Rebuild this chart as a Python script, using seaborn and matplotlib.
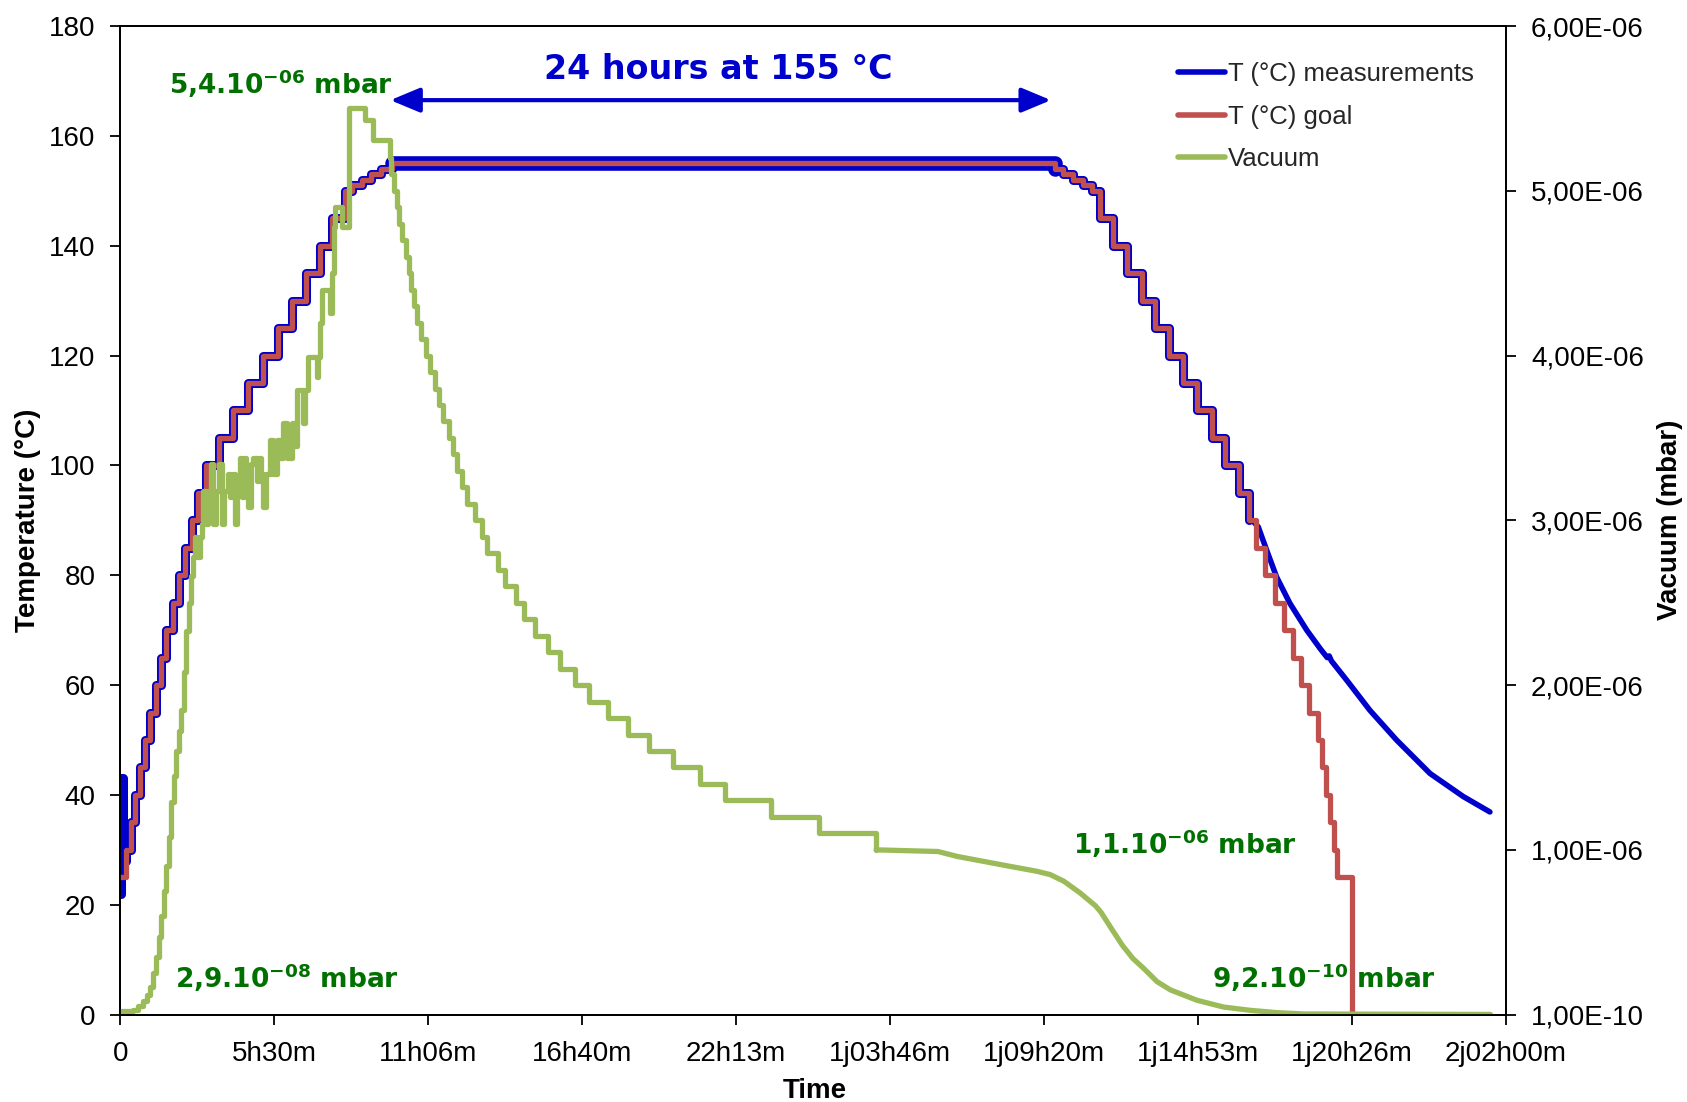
import numpy as np
import pandas as pd
import matplotlib
matplotlib.use("Agg")
import matplotlib.pyplot as plt
from matplotlib.lines import Line2D
from matplotlib.patches import ArrowStyle
import seaborn as sns

# ---------------- data (time in hours) ----------------
goal_time = [0, 0.2, 0.38, 0.53, 0.72, 0.9, 1.08, 1.27, 1.46, 1.66, 1.88, 2.1, 2.34, 2.58, 2.8,
             3.07, 3.55, 4.07, 4.61, 5.15, 5.67, 6.2, 6.7, 7.2, 7.65, 8.1,
             8.35, 8.7, 9.05, 9.4, 9.8,
             33.72, 34.02, 34.39, 34.75, 35.05,
             35.35, 35.83, 36.31, 36.85, 37.33, 37.85, 38.36, 38.84, 39.38, 39.86,
             40.35, 40.72, 40.98, 41.32, 41.66, 41.98, 42.32, 42.6, 42.9, 43.2,
             43.36, 43.5, 43.64, 43.78, 43.9, 44.44]
goal_temp = [25, 30, 35, 40, 45, 50, 55, 60, 65, 70, 75, 80, 85, 90, 95,
             100, 105, 110, 115, 120, 125, 130, 135, 140, 145, 150,
             151, 152, 153, 154, 155,
             154, 153, 152, 151, 150,
             145, 140, 135, 130, 125, 120, 115, 110, 105, 100,
             95, 90, 85, 80, 75, 70, 65, 60, 55, 50,
             45, 40, 35, 30, 25, 0]

# measured temperature: start spike, then follows the goal steps until 40.72 h, then free cooling
meas_start_time = [0, 0.03, 0.08]
meas_start_temp = [22, 43, 28]
meas_tail_time = [40.72, 40.88, 41.06, 41.36, 41.72, 42.2, 42.81, 43.3, 43.55, 43.62, 43.7,
                  44.25, 45.09, 46.05, 47.26, 48.46, 49.42]
meas_tail_temp = [90, 89.8, 88.8, 84.6, 79.7, 74.9, 70, 66.6, 65.0, 65.3, 64.4,
                  60.9, 55.4, 50, 43.9, 39.7, 36.9]

# vacuum (units of 1e-6 mbar), staircase part
vac_step_time = [0.0, 0.3, 0.46, 0.65, 0.82, 0.95, 1.06, 1.18, 1.30, 1.40, 1.48, 1.57, 1.66, 1.75,
                 1.84, 1.93, 2.02, 2.11, 2.20, 2.29, 2.38, 2.47, 2.56, 2.63,
                 2.70, 2.78, 2.87, 2.93, 2.99, 3.08, 3.17, 3.26, 3.35, 3.45, 3.55, 3.65, 3.75,
                 3.89, 3.97, 4.05, 4.13, 4.22, 4.30, 4.37, 4.45, 4.53, 4.61, 4.70, 4.80, 4.92,
                 5.0, 5.08, 5.15, 5.25, 5.40, 5.52, 5.64, 5.76, 5.88, 6.0, 6.18, 6.28, 6.36,
                 6.50, 6.60, 6.66, 6.78, 6.95, 7.10, 7.14, 7.20, 7.26, 7.45, 7.55, 7.62, 7.70,
                 7.74, 8.0, 8.24, 8.82, 9.12,
                 9.71, 9.78, 9.86, 9.98, 10.05, 10.17, 10.29, 10.4, 10.48, 10.6, 10.71, 10.83,
                 11.02, 11.18, 11.34, 11.49, 11.65, 11.84, 12.0, 12.15, 12.33, 12.52, 12.78,
                 13.04, 13.23, 13.61, 13.87, 14.26, 14.58, 14.97, 15.42, 15.87, 16.39, 16.9,
                 17.61, 18.32, 19.09, 19.93, 20.9, 21.8, 23.47, 25.21, 27.27]
vac_step_val = [0.02, 0.02, 0.03, 0.05, 0.08, 0.12, 0.17, 0.25, 0.35, 0.47, 0.6, 0.75, 0.9, 1.08,
                1.29, 1.45, 1.6, 1.72, 1.85, 2.08, 2.33, 2.5, 2.66, 2.78,
                2.9, 2.78, 2.9, 2.98, 3.18, 2.98, 3.18, 3.34, 2.98, 3.18, 3.34, 2.98, 3.18,
                3.28, 3.14, 3.28, 2.98, 3.18, 3.38, 3.14, 3.38, 3.24, 3.08, 3.34, 3.38, 3.24,
                3.38, 3.28, 3.08, 3.28, 3.49, 3.28, 3.49, 3.38, 3.59, 3.38, 3.59, 3.45, 3.79,
                3.79, 3.59, 3.79, 3.99, 3.99, 3.87, 3.99, 4.2, 4.4, 4.4, 4.26, 4.5, 4.78,
                4.9, 4.78, 5.5, 5.43, 5.31,
                5.2, 5.1, 5.0, 4.9, 4.8, 4.7, 4.6, 4.5, 4.4, 4.3, 4.2, 4.1,
                4.0, 3.9, 3.8, 3.7, 3.6, 3.5, 3.4, 3.3, 3.2, 3.1, 3.0,
                2.9, 2.8, 2.7, 2.6, 2.5, 2.4, 2.3, 2.2, 2.1, 2.0, 1.9,
                1.8, 1.7, 1.6, 1.5, 1.4, 1.3, 1.2, 1.1, 1.0]
# vacuum, smooth end part
vac_tail_time = [27.27, 29.5, 30.2, 31.15, 32.1, 33.07, 33.55, 34.04, 34.62, 35.19, 35.39, 35.77,
                 36.16, 36.54, 36.93, 37.41, 37.89, 38.85, 39.81, 40.78, 41.74, 42.7, 49.44]
vac_tail_val = [1.0, 0.99, 0.96, 0.93, 0.9, 0.87, 0.85, 0.81, 0.74, 0.66, 0.62, 0.52,
                0.42, 0.34, 0.28, 0.2, 0.15, 0.087, 0.046, 0.026, 0.012, 0.004, 0.001]

x_tick_labels = ['0', '5h30m', '11h06m', '16h40m', '22h13m', '1j03h46m', '1j09h20m',
                 '1j14h53m', '1j20h26m', '2j02h00m']
y2_ticks = [1e-10, 1e-6, 2e-6, 3e-6, 4e-6, 5e-6, 6e-6]
y2_tick_labels = ['1,00E-10', '1,00E-06', '2,00E-06', '3,00E-06', '4,00E-06', '5,00E-06', '6,00E-06']

# ---------------- frames ----------------
goal_df = pd.DataFrame({'time': goal_time, 'temp': goal_temp})
step_end = goal_time.index(40.72)
meas_step_df = pd.DataFrame({'time': meas_start_time + goal_time[1:step_end + 1],
                             'temp': meas_start_temp + goal_temp[1:step_end + 1]})
meas_tail_df = pd.DataFrame({'time': meas_tail_time, 'temp': meas_tail_temp})
plateau_df = meas_step_df[(meas_step_df.time >= 9.8) & (meas_step_df.time <= 33.72)]
vac_step_df = pd.DataFrame({'time': vac_step_time, 'vac': np.array(vac_step_val) * 1e-6})
vac_tail_df = pd.DataFrame({'time': vac_tail_time, 'vac': np.array(vac_tail_val) * 1e-6})

# ---------------- style ----------------
sns.set_theme(style="ticks")
plt.rcParams['font.family'] = ['Liberation Sans', 'DejaVu Sans']
plt.rcParams['mathtext.fontset'] = 'dejavusans'

BLUE = '#0000CC'
RED = '#C0504D'
GREEN = '#9BBB59'
DKGREEN = '#007000'

fig = plt.figure(figsize=(16.87, 11.02), dpi=100)
ax = fig.add_axes([0.0714, 0.0793, 0.8213, 0.8971])
ax2 = ax.twinx()

common = dict(sort=False, estimator=None, errorbar=None, legend=False)
sns.lineplot(data=meas_step_df, x='time', y='temp', ax=ax, color=BLUE, lw=6.5,
             drawstyle='steps-post', zorder=2, **common)
sns.lineplot(data=plateau_df, x='time', y='temp', ax=ax, color=BLUE, lw=10.5,
             drawstyle='steps-post', zorder=2, **common)
sns.lineplot(data=meas_tail_df, x='time', y='temp', ax=ax, color=BLUE, lw=4,
             zorder=2, **common)
sns.lineplot(data=goal_df, x='time', y='temp', ax=ax, color=RED, lw=3.8,
             drawstyle='steps-post', zorder=3, **common)

sns.lineplot(data=vac_step_df, x='time', y='vac', ax=ax2, color=GREEN, lw=3.8,
             drawstyle='steps-post', **common)
sns.lineplot(data=vac_tail_df, x='time', y='vac', ax=ax2, color=GREEN, lw=3.8, **common)

# axes
ax.set_xlim(0, 50)
ax.set_ylim(0, 180)
ax.set_yticks(np.arange(0, 181, 20))
ax.set_xticks(np.linspace(0, 50, 10))
ax.set_xticklabels(x_tick_labels)
ax2.set_ylim(1e-10, 6e-6)
ax2.set_yticks(y2_ticks)
ax2.set_yticklabels(y2_tick_labels)

for a in (ax, ax2):
    for s in a.spines.values():
        s.set_visible(True)
        s.set_color('black')
        s.set_linewidth(1.3)
ax.tick_params(axis='y', left=True, direction='out', length=7, width=1.3,
               labelsize=20, pad=11, colors='black')
ax.tick_params(axis='x', bottom=True, direction='out', length=7, width=1.3,
               labelsize=20, pad=12, colors='black')
ax2.tick_params(axis='y', right=True, direction='out', length=7, width=1.3,
                labelsize=20, pad=11, colors='black')

ax.set_xlabel('Time', fontsize=20, fontweight='bold', color='black')
ax.set_ylabel('Temperature (°C)', fontsize=20, fontweight='bold', color='black')
ax2.set_ylabel('Vacuum (mbar)', fontsize=20, fontweight='bold', color='black')
ax.xaxis.set_label_coords(0.501, -0.064)
ax.yaxis.set_label_coords(-0.057, 0.5)
ax2.yaxis.set_label_coords(1.109, 0.5)

# annotations
ax.text(21.58, 170.3, '24 hours at 155 °C', color=BLUE, fontsize=24, fontweight='bold',
        ha='center', va='baseline', family='DejaVu Sans')
ax.annotate('', xy=(9.74, 166.5), xytext=(33.58, 166.5),
            arrowprops=dict(arrowstyle=ArrowStyle('<|-|>', head_length=0.6, head_width=0.25),
                            color=BLUE, lw=3, mutation_scale=30, shrinkA=0, shrinkB=0))
ann = dict(color=DKGREEN, fontsize=19, fontweight='bold', family='DejaVu Sans',
           ha='left', va='baseline')
ax.text(1.75, 167.7, r'5,4.10$^{\mathbf{-06}}$ mbar', **ann)
ax.text(1.98, 4.9, r'2,9.10$^{\mathbf{-08}}$ mbar', **ann)
ax.text(34.39, 29.2, r'1,1.10$^{\mathbf{-06}}$ mbar', **ann)
ax.text(39.4, 4.9, r'9,2.10$^{\mathbf{-10}}$ mbar', **ann)

handles = [Line2D([], [], color=BLUE, lw=4), Line2D([], [], color=RED, lw=4),
           Line2D([], [], color=GREEN, lw=4)]
labels = ['T (°C) measurements', 'T (°C) goal', 'Vacuum']
ax2.legend(handles, labels, loc='upper left', bbox_to_anchor=(0.763, 0.9632),
           frameon=False, fontsize=18.5, handlelength=1.85, handletextpad=0.1,
           labelspacing=0.72, borderaxespad=0, borderpad=0)

fig.savefig('out.png', dpi=100, facecolor='white')
